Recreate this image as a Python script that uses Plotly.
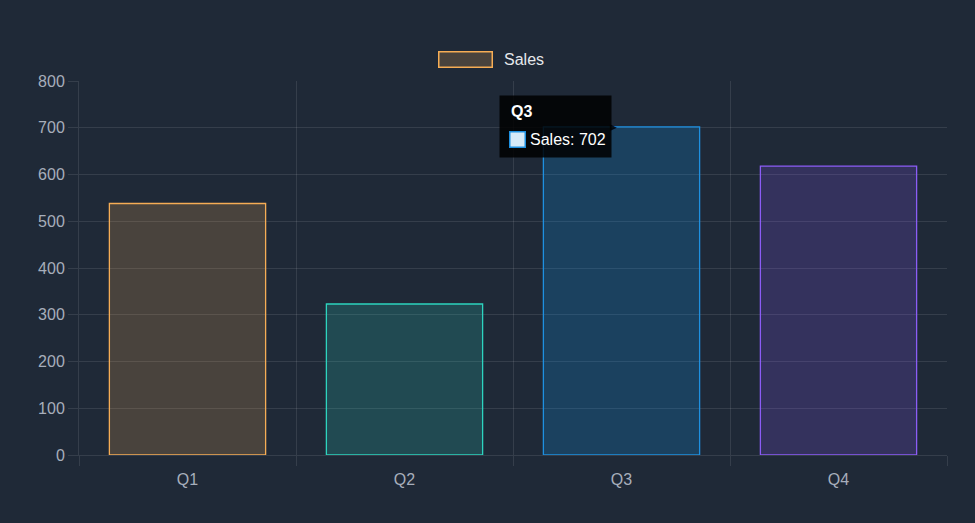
import plotly.graph_objects as go

categories = ["Q1", "Q2", "Q3", "Q4"]
sales = [538, 323, 702, 618]
border_colors = ["#f6ad55", "#2dd4bf", "#1e90e0", "#8b5cf6"]
fill_colors = ["rgba(246,173,85,0.2)", "rgba(45,212,191,0.2)", "rgba(14,150,240,0.22)", "rgba(139,92,246,0.2)"]
y_ticks = [0, 100, 200, 300, 400, 500, 600, 700, 800]
tip_index = 2

BG = "#1f2937"
GRID = "rgba(255,255,255,0.1)"
FONT = "Liberation Sans, Arial, sans-serif"
TICK_FONT = dict(family=FONT, size=16, color="#a7aebb")

fig = go.Figure()
fig.add_trace(go.Bar(
    x=categories, y=sales, name="Sales",
    marker=dict(color=fill_colors, line=dict(color=border_colors, width=1.3)),
    showlegend=False, hoverinfo="skip",
))

tx, ty = categories[tip_index], sales[tip_index]

fig.update_layout(
    width=975, height=523,
    paper_bgcolor=BG, plot_bgcolor=BG,
    margin=dict(l=79, r=28, t=81, b=68),
    bargap=0.28,
    xaxis=dict(
        type="category", tickson="boundaries",
        showgrid=True, gridcolor=GRID, gridwidth=1,
        ticks="outside", ticklen=10, tickcolor=GRID,
        showline=True, linecolor=GRID, linewidth=1,
        tickfont=TICK_FONT, zeroline=False, ticklabelstandoff=10,
    ),
    yaxis=dict(
        range=[0, 800], tickvals=y_ticks,
        showgrid=True, gridcolor=GRID, gridwidth=1,
        ticks="outside", ticklen=10, tickcolor=GRID,
        showline=True, linecolor=GRID, linewidth=1,
        zeroline=False, tickfont=TICK_FONT,
    ),
    annotations=[
        # legend swatch
        dict(xref="paper", yref="paper", x=0.5, y=1.0, yshift=22, xshift=-20,
             xanchor="right", yanchor="middle", text=" ", showarrow=False,
             width=52, height=14, bgcolor=fill_colors[0],
             bordercolor=border_colors[0], borderwidth=1.5, borderpad=0),
        dict(xref="paper", yref="paper", x=0.5, y=1.0, yshift=22, xshift=-11,
             xanchor="left", yanchor="middle", text="Sales", showarrow=False,
             font=dict(family=FONT, size=16, color="#e5e7eb")),
        # tooltip caret
        dict(x=tx, y=ty, xref="x", yref="y", xshift=-3,
             xanchor="right", yanchor="middle", text="\u25B6", showarrow=False,
             font=dict(size=9, color="rgba(0,0,0,0.85)")),
        # tooltip box
        dict(x=tx, y=ty, xref="x", yref="y", xshift=-10,
             xanchor="right", yanchor="middle", text=" ", showarrow=False,
             width=111, height=61, borderpad=0,
             bgcolor="rgba(0,0,0,0.85)", bordercolor="rgba(0,0,0,0)"),
        # tooltip title
        dict(x=tx, y=ty, xref="x", yref="y", xshift=-113, yshift=15,
             xanchor="left", yanchor="middle", text="<b>" + tx + "</b>", showarrow=False,
             font=dict(family=FONT, size=16, color="#ffffff")),
        # tooltip colour box
        dict(x=tx, y=ty, xref="x", yref="y", xshift=-113, yshift=-13,
             xanchor="left", yanchor="middle", text=" ", showarrow=False,
             width=14, height=14, borderpad=0,
             bgcolor="#d6eaf8", bordercolor="#1e90e0", borderwidth=1.5),
        # tooltip body
        dict(x=tx, y=ty, xref="x", yref="y", xshift=-94, yshift=-13,
             xanchor="left", yanchor="middle", text="Sales: " + str(ty), showarrow=False,
             font=dict(family=FONT, size=16, color="#ffffff")),
    ],
)

fig.write_html(
    "out.html",
    config={"displayModeBar": False},
    post_script="document.body.style.margin='0';document.body.style.background='%s';" % BG,
)
